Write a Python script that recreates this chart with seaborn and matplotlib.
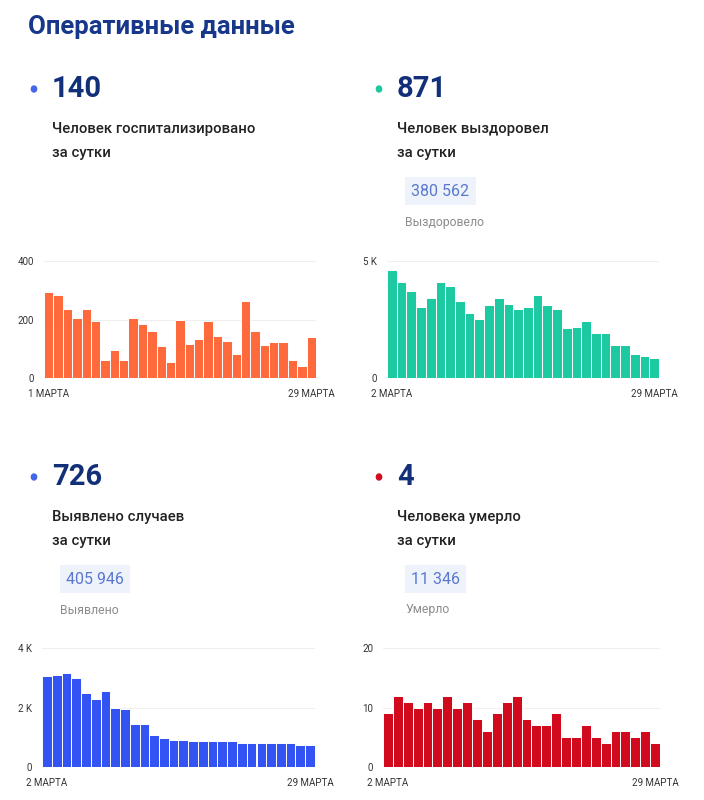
import numpy as np
import pandas as pd
import matplotlib
matplotlib.use("Agg")
import matplotlib.pyplot as plt
import seaborn as sns

# data
hosp = [295, 285, 235, 205, 235, 195, 60, 97, 60, 205, 185, 160, 108, 53, 198,
        117, 133, 195, 145, 128, 83, 263, 160, 113, 122, 122, 60, 40, 140]
recovered = [4630, 4110, 3725, 3045, 3430, 4120, 3925, 3285, 2760, 2520, 3115,
             3430, 3145, 2930, 3030, 3555, 3115, 2930, 2155, 2180, 2420, 1940,
             1925, 1400, 1400, 1035, 935, 871]
cases = [3075, 3085, 3155, 2975, 2500, 2300, 2545, 1985, 1960, 1455, 1455, 1070,
         980, 900, 900, 880, 880, 880, 870, 870, 810, 810, 810, 800, 800, 790,
         755, 726]
deaths = [9, 12, 11, 10, 11, 10, 12, 10, 11, 8, 6, 9, 11, 12, 8, 7, 7, 9, 5, 5,
          7, 5, 4, 6, 6, 5, 6, 4]

big_numbers = ["140", "871", "726", "4"]
captions = [["Человек госпитализировано", "за сутки"],
            ["Человек выздоровел", "за сутки"],
            ["Выявлено случаев", "за сутки"],
            ["Человека умерло", "за сутки"]]
totals = [None, "380 562", "405 946", "11 346"]
total_labels = [None, "Выздоровело", "Выявлено", "Умерло"]
first_days = ["1 МАРТА", "2 МАРТА", "2 МАРТА", "2 МАРТА"]
last_day = "29 МАРТА"
yticks = [[0, 200, 400], [0, 5000], [0, 2000, 4000], [0, 10, 20]]
ytick_labels = [["0", "200", "400"], ["0", "5 K"], ["0", "2 K", "4 K"], ["0", "10", "20"]]
bar_colors = ["#FF6A3D", "#1CC9A0", "#3353F2", "#D10A1E"]
dot_colors = ["#4466E8", "#1CC9A0", "#4466E8", "#D10A1E"]
series = [hosp, recovered, cases, deaths]

sns.set_theme(style="white")
plt.rcParams["font.family"] = ["Roboto", "DejaVu Sans"]

W, H = 704, 800
fig = plt.figure(figsize=(W / 100, H / 100), dpi=100)
fig.patch.set_facecolor("white")

def fx(x):
    return x / W

def fy(y):
    return 1 - y / H

navy = "#12307A"
fig.text(fx(28), fy(27), "Оперативные данные", fontsize=18.5, fontweight="bold",
         color="#17388A", va="center", ha="left")

# panel anchors: (x of dot, y of big number)
anchors = [(33, 89), (378, 89), (33, 477), (378, 477)]
# chart boxes: left, right, top, bottom in pixels
boxes = [(44, 316, 261, 378), (387, 659, 261, 378),
         (42, 315, 648, 767), (383, 660, 648, 767)]

for i in range(4):
    ax0, ay0 = anchors[i]
    fig.patches.append(matplotlib.patches.Circle((fx(ax0 + 1), fy(ay0)), 3 / H,
                                                 transform=fig.transFigure,
                                                 color=dot_colors[i]))
    fig.text(fx(ax0 + 19), fy(ay0), big_numbers[i], fontsize=21, fontweight="bold",
             color=navy, va="center", ha="left")
    fig.text(fx(ax0 + 19), fy(ay0 + 40), captions[i][0], fontsize=10.7, fontweight="medium",
             color="#222222", va="center", ha="left")
    fig.text(fx(ax0 + 19), fy(ay0 + 64), captions[i][1], fontsize=10.7, fontweight="medium",
             color="#222222", va="center", ha="left")
    if totals[i] is not None:
        fig.text(fx(ax0 + 33), fy(ay0 + 102), totals[i], fontsize=11.5,
                 color="#5A78CF", va="center", ha="left",
                 bbox=dict(boxstyle="square,pad=0.4", fc="#EEF2FB", ec="none"))
        fig.text(fx(ax0 + 27), fy(ay0 + 133), total_labels[i], fontsize=8.8,
                 color="#8C8C8C", va="center", ha="left")

    l, r, t, b = boxes[i]
    ax = fig.add_axes([fx(l), fy(b), (r - l) / W, (b - t) / H])
    vals = series[i]
    df = pd.DataFrame({"day": np.arange(len(vals)), "value": vals})
    sns.barplot(data=df, x="day", y="value", color=bar_colors[i], width=1.0,
                edgecolor="white", linewidth=0.7, saturation=1, ax=ax)
    ax.set_xlim(-0.5, len(vals) - 0.5)
    ax.set_ylim(0, yticks[i][-1])
    ax.set_yticks(yticks[i])
    ax.set_yticklabels(ytick_labels[i])
    ax.set_xticks([0, len(vals) - 1])
    ax.set_xticklabels([first_days[i], last_day])
    for v in yticks[i][1:]:
        ax.axhline(v, color="#EFEFEF", lw=0.8, zorder=0)
    ax.set_xlabel("")
    ax.set_ylabel("")
    for s in ax.spines.values():
        s.set_visible(False)
    ax.tick_params(axis="y", length=0, pad=7, labelsize=7, labelcolor="#333333")
    ax.tick_params(axis="x", length=0, pad=8, labelsize=7, labelcolor="#333333")
    ax.patch.set_alpha(0)

fig.savefig("out.png", dpi=100, facecolor="white")
